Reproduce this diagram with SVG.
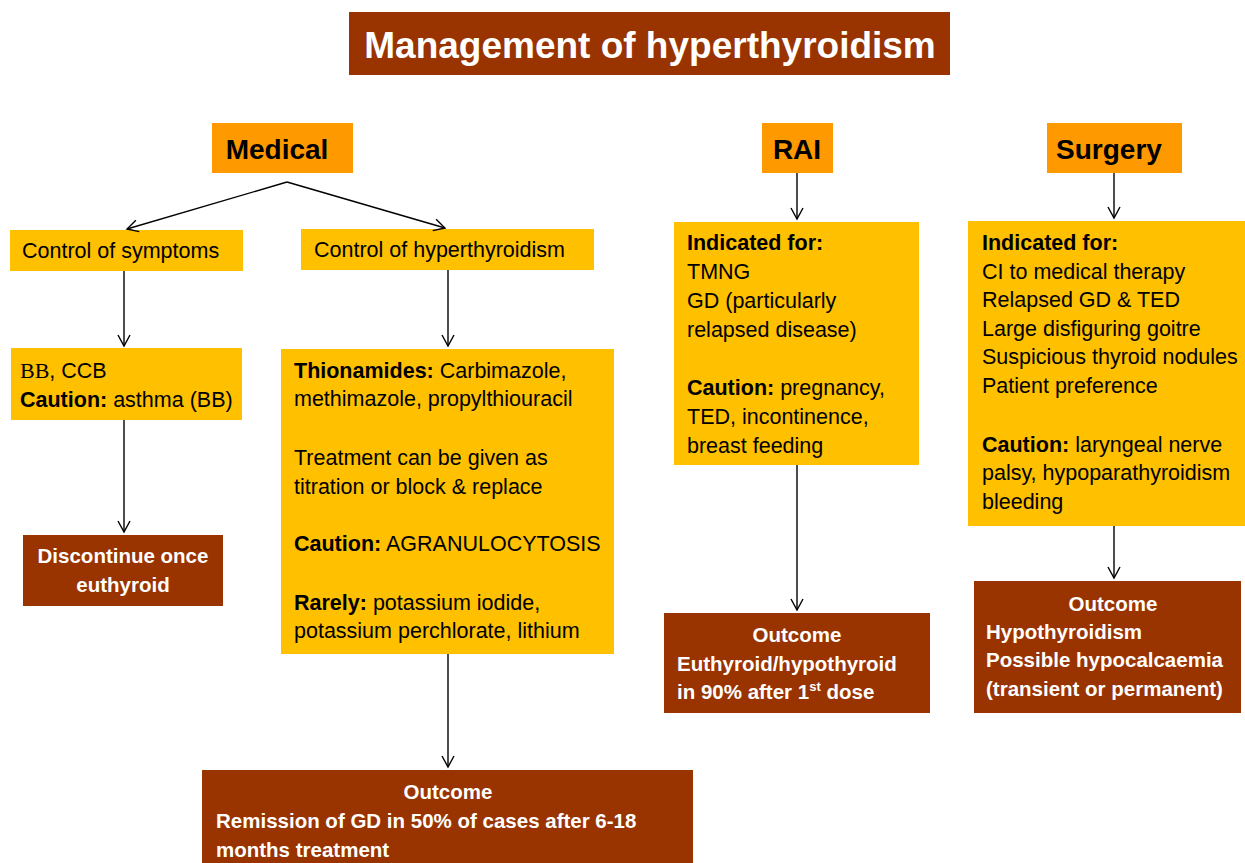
<svg xmlns="http://www.w3.org/2000/svg" width="1245" height="863" viewBox="0 0 1245 863">
<defs>
<marker id="arr" markerWidth="16" markerHeight="16" refX="13" refY="8" orient="auto" markerUnits="userSpaceOnUse">
<polyline points="2,2 13,8 2,14" fill="none" stroke="#000" stroke-width="1.4"/>
</marker>
</defs>
<style>
.brown{fill:#993300}
.orange{fill:#FF9900}
.yellow{fill:#FFC000}
text{font-family:"Liberation Sans",Arial,sans-serif;font-size:21.5px;fill:#000}
.w{fill:#fff;font-weight:bold;font-size:20.5px}
.b{font-weight:bold}
.hdr{font-size:28px;font-weight:bold}
.c{text-anchor:middle}
.conn line{stroke:#000;stroke-width:1.4;marker-end:url(#arr)}
</style>
<rect width="1245" height="863" fill="#fff"/>

<g id="title">
<rect class="brown" x="349" y="12" width="601" height="63"/>
<text class="w c" x="650" y="58" style="font-size:37px">Management of hyperthyroidism</text>
</g>

<g id="medical">
<rect class="orange" x="212" y="123" width="141" height="50"/>
<text class="hdr c" x="277" y="159">Medical</text>
</g>
<g id="rai">
<rect class="orange" x="762" y="123" width="71" height="50"/>
<text class="hdr c" x="797" y="159">RAI</text>
</g>
<g id="surgery">
<rect class="orange" x="1047" y="123" width="135" height="50"/>
<text class="hdr c" x="1109" y="159">Surgery</text>
</g>

<g id="control-symptoms">
<rect class="yellow" x="10" y="230" width="233" height="41"/>
<text x="22" y="258">Control of symptoms</text>
</g>
<g id="control-hyper">
<rect class="yellow" x="301" y="229" width="293" height="41"/>
<text x="314" y="257">Control of hyperthyroidism</text>
</g>

<g id="bb">
<rect class="yellow" x="11" y="348" width="231" height="72"/>
<text x="20" y="378"><tspan style="font-family:'Liberation Serif',serif;font-size:22px">BB</tspan>, CCB</text>
<text x="20" y="407"><tspan class="b">Caution:</tspan> asthma (BB)</text>
</g>
<g id="discontinue">
<rect class="brown" x="23" y="535" width="200" height="71"/>
<text class="w c" x="123" y="563">Discontinue once</text>
<text class="w c" x="123" y="592">euthyroid</text>
</g>

<g id="thionamides">
<rect class="yellow" x="281" y="349" width="333" height="305"/>
<text x="294" y="378"><tspan class="b">Thionamides:</tspan> Carbimazole,</text>
<text x="294" y="406">methimazole, propylthiouracil</text>
<text x="294" y="465">Treatment can be given as</text>
<text x="294" y="494">titration or block &amp; replace</text>
<text x="294" y="551"><tspan class="b">Caution:</tspan> AGRANULOCYTOSIS</text>
<text x="294" y="610"><tspan class="b">Rarely:</tspan> potassium iodide,</text>
<text x="294" y="638">potassium perchlorate, lithium</text>
</g>
<g id="medical-outcome">
<rect class="brown" x="202" y="770" width="491" height="93"/>
<text class="w c" x="448" y="799">Outcome</text>
<text class="w" x="216" y="828">Remission of GD in 50% of cases after 6-18</text>
<text class="w" x="216" y="857">months treatment</text>
</g>

<g id="rai-box">
<rect class="yellow" x="674" y="222" width="245" height="243"/>
<text class="b" x="687" y="250">Indicated for:</text>
<text x="687" y="279">TMNG</text>
<text x="687" y="308">GD (particularly</text>
<text x="687" y="337">relapsed disease)</text>
<text x="687" y="395"><tspan class="b">Caution:</tspan> pregnancy,</text>
<text x="687" y="424">TED, incontinence,</text>
<text x="687" y="453">breast feeding</text>
</g>
<g id="rai-outcome">
<rect class="brown" x="664" y="613" width="266" height="100"/>
<text class="w c" x="797" y="642">Outcome</text>
<text class="w" x="677" y="671">Euthyroid/hypothyroid</text>
<text class="w" x="677" y="699">in 90% after 1<tspan dy="-8" style="font-size:13px">st</tspan><tspan dy="8"> dose</tspan></text>
</g>

<g id="surgery-box">
<rect class="yellow" x="968" y="221" width="277" height="305"/>
<text class="b" x="982" y="250">Indicated for:</text>
<text x="982" y="279">CI to medical therapy</text>
<text x="982" y="307">Relapsed GD &amp; TED</text>
<text x="982" y="336">Large disfiguring goitre</text>
<text x="982" y="364">Suspicious thyroid nodules</text>
<text x="982" y="393">Patient preference</text>
<text x="982" y="452"><tspan class="b">Caution:</tspan> laryngeal nerve</text>
<text x="982" y="480">palsy, hypoparathyroidism</text>
<text x="982" y="509">bleeding</text>
</g>
<g id="surgery-outcome">
<rect class="brown" x="974" y="581" width="267" height="132"/>
<text class="w c" x="1113" y="611">Outcome</text>
<text class="w" x="986" y="639">Hypothyroidism</text>
<text class="w" x="986" y="667">Possible hypocalcaemia</text>
<text class="w" x="986" y="696">(transient or permanent)</text>
</g>

<g id="connectors" class="conn">
<line x1="287" y1="182" x2="127" y2="229"/>
<line x1="287" y1="182" x2="445" y2="228"/>
<line x1="124" y1="271" x2="124" y2="346"/>
<line x1="124" y1="420" x2="124" y2="532"/>
<line x1="448" y1="270" x2="448" y2="346"/>
<line x1="448" y1="654" x2="448" y2="767"/>
<line x1="797" y1="173" x2="797" y2="219"/>
<line x1="797" y1="465" x2="797" y2="610"/>
<line x1="1114" y1="173" x2="1114" y2="218"/>
<line x1="1114" y1="526" x2="1114" y2="578"/>
</g>
</svg>
